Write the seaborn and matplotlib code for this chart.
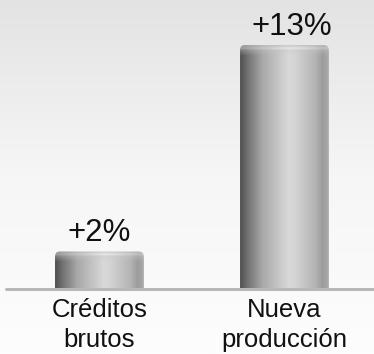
import numpy as np
import pandas as pd
import matplotlib
matplotlib.use("Agg")
import matplotlib.pyplot as plt
from matplotlib.patches import FancyBboxPatch
from matplotlib.colors import LinearSegmentedColormap, to_rgb
import seaborn as sns

# Growth figures
categories = ["Créditos\nbrutos", "Nueva\nproducción"]
growth = [2, 13]
value_labels = ["+2%", "+13%"]

sns.set_theme(style="white")
plt.rcParams["font.family"] = ["Liberation Sans", "DejaVu Sans"]

W, H = 374, 354
fig = plt.figure(figsize=(W / 100, H / 100), dpi=100)

# soft vertical background gradient
bg = fig.add_axes([0, 0, 1, 1], zorder=-5)
grad = np.linspace(0, 1, 256)[:, None]
bg_cmap = LinearSegmentedColormap.from_list("bg", ["#fdfdfd", "#f6f6f6", "#e3e3e3"])
bg.imshow(grad, aspect="auto", cmap=bg_cmap, origin="lower", extent=[0, 1, 0, 1],
          vmin=0, vmax=1)
bg.set_axis_off()

base_px = 289
ax = fig.add_axes([6 / W, (H - base_px) / H, (W - 6) / W, base_px / H])
ax.patch.set_alpha(0)

df = pd.DataFrame({"cat": categories, "val": growth})
sns.barplot(data=df, x="cat", y="val", color="#aaaaaa", width=0.48, ax=ax)

ymax = 13 * base_px / (base_px - 45)
ax.set_xlim(-0.505, 1.484)
ax.set_ylim(0, ymax)

# cylinder shading across the bar width
prof_pos = [0.0, 0.08, 0.25, 0.55, 0.62, 0.85, 0.93, 1.0]
prof_col = ["#505050", "#707070", "#a8a8a8", "#d9d9d9", "#d4d4d4", "#b4b4b4", "#9c9c9c", "#aaaaaa"]
xs = np.linspace(0, 1, 200)
prof = np.stack([np.interp(xs, prof_pos, [to_rgb(c)[i] for c in prof_col]) for i in range(3)], axis=-1)
hl_across = 0.35 + 0.65 * np.exp(-((xs - 0.58) / 0.22) ** 2)

px_per_x = (W - 6) / (1.484 + 0.505)
px_per_y = base_px / ymax

for p, v in zip(ax.patches, growth):
    p.set_visible(False)
    x0, w = p.get_x(), p.get_width()
    below = 1.0
    nrows = int((v + below) * px_per_y) * 3
    img = np.repeat(prof[None, :, :], nrows, axis=0).copy()
    ypx = np.linspace(0, (v + below) * px_per_y, nrows)  # distance from top in px
    # flatter, lighter top cap fading into the body
    capw = np.clip(1 - ypx / 10.0, 0, 1) ** 0.8 * 0.6
    capw = capw[:, None, None]
    img = img * (1 - capw) + capw * np.array([0.78, 0.78, 0.78])
    # thin highlight just under the rim
    hl = (np.exp(-((ypx - 3.0) / 1.2) ** 2)[:, None] * hl_across[None, :])[:, :, None]
    img = img * (1 - 0.6 * hl) + 0.6 * hl * np.array([0.96, 0.96, 0.96])
    img = np.clip(img, 0, 1)
    im = ax.imshow(img, extent=[x0, x0 + w, -below, v], aspect="auto",
                   origin="upper", zorder=3, interpolation="bilinear")
    r = 5 / px_per_x
    clip = FancyBboxPatch((x0, -below), w, v + below,
                          boxstyle=f"round,pad=0,rounding_size={r}",
                          mutation_aspect=px_per_x / px_per_y,
                          transform=ax.transData, facecolor="none", edgecolor="none")
    ax.add_patch(clip)
    im.set_clip_path(clip)

label_dx_px = [0, 7]
for i, (v, lab) in enumerate(zip(growth, value_labels)):
    ax.text(i + label_dx_px[i] / px_per_x, v + 3 / px_per_y, lab, ha="center", va="bottom",
            fontsize=22.5, color="#111111")

ax.axhline(0, color="#b8b8b8", lw=2.2, zorder=4, clip_on=False)
sns.despine(ax=ax, left=True, bottom=True)
ax.set_yticks([])
ax.set_xlabel("")
ax.set_ylabel("")
ax.tick_params(axis="x", length=0, pad=6.5, labelsize=18.5, labelcolor="#111111")
for t in ax.get_xticklabels():
    t.set_linespacing(1.3)

fig.savefig("out.png", dpi=100)
